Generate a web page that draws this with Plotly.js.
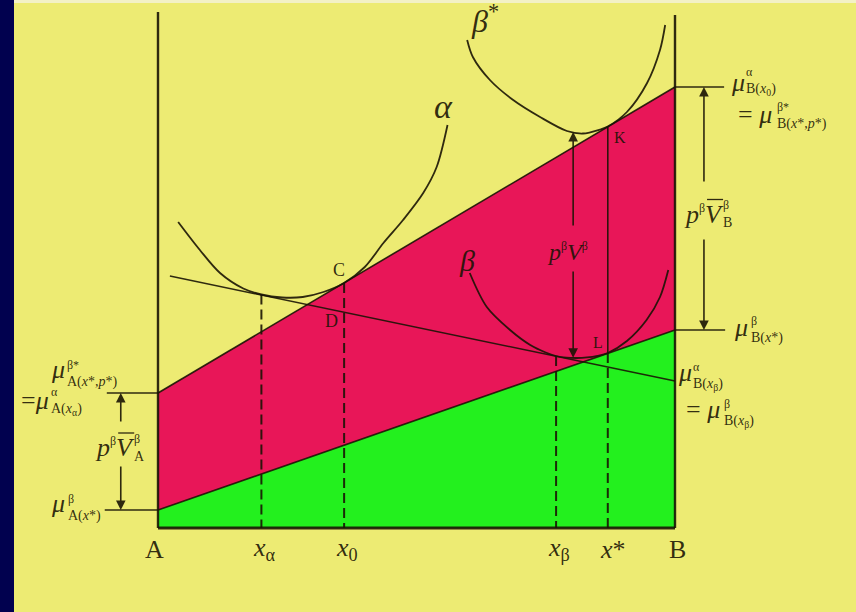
<!DOCTYPE html>
<html>
<head>
<meta charset="utf-8">
<script src="https://cdn.plot.ly/plotly-3.0.1.min.js"></script>
<style>
  html, body { margin: 0; padding: 0; background: #EDEB73; }
  #chart { width: 856px; height: 612px; }
</style>
</head>
<body>
<div id="chart"></div>
<script>
// Composition axis: 0 = pure A, 100 = pure B (mole % B)
const composition = [0, 100];
// Chemical potentials (arbitrary units) at the A and B ends
const muBase = [0, 0];
const muBetaXStar = [1.8, 19.8];           // β at x*  (lower straight line)
const muBetaStarXStarPStar = [13.5, 44.1]; // β* at x*, p* (upper straight line)
// Common tangent of the α and β curves
const tangentX = [2.3, 100];
const tangentMu = [25.2, 14.7];
// Free-energy curves
const alphaX = [3.9, 8.1, 12, 16.5, 20, 24, 28, 32, 36, 40, 43.6, 47.4, 51.3, 53.9, 56];
const alphaMu = [30.6, 27.8, 25.5, 23.95, 23.35, 23.05, 23.1, 23.6, 24.5, 26.1, 28.5, 30.8, 33.5, 36.1, 40.3];
const betaX = [60.3, 63.6, 68.1, 72, 75, 77, 79, 81, 83, 85, 87, 90.7, 94.5, 97.1, 98.7];
const betaMu = [25.5, 22.1, 19.8, 18.3, 17.55, 17.2, 17.04, 17.0, 17.06, 17.22, 17.5, 18.7, 20.8, 23.1, 25.8];
const betaStarX = [59.8, 60.9, 64.2, 68.7, 73.9, 79.1, 82.2, 85.5, 87, 90.7, 94.6, 97.1, 98.1];
const betaStarMu = [48.8, 47.1, 44.8, 42.8, 41.1, 39.7, 39.45, 39.85, 40.15, 41.6, 44.5, 47.8, 50.3];
// Marked compositions along the bottom
const markX = [20, 36, 77, 87];
const markLabels = ['<i>x</i><sub>α</sub>', '<i>x</i><sub>0</sub>', '<i>x</i><sub>β</sub>', '<i>x</i>*'];
const endLabels = ['A', 'B'];
const frameTop = [51.6, 51.3];
const pvArrowX = 80.3;

const yellow = '#EDEB73', red = '#E81658', green = '#23F01E', navy = '#01014F';
const ink = 'rgba(26,20,4,0.9)';
const serif = '"Liberation Serif", "DejaVu Serif", "Times New Roman", serif';

function interp(xs, ys, x) {
  for (let i = 0; i < xs.length - 1; i++) {
    if (x >= xs[i] && x <= xs[i + 1]) {
      const t = (x - xs[i]) / (xs[i + 1] - xs[i]);
      return ys[i] + t * (ys[i + 1] - ys[i]);
    }
  }
  return NaN;
}

function line(x, y, width, dash, shape) {
  return { type: 'scatter', mode: 'lines', x, y, hoverinfo: 'skip',
    line: { color: ink, width: width || 1.6, dash: dash || 'solid', shape: shape || 'linear', smoothing: 0.9 } };
}
function fillPoly(x, y, color) {
  return { type: 'scatter', mode: 'lines', x, y, fill: 'toself', fillcolor: color,
    line: { width: 0 }, hoverinfo: 'skip' };
}

const traces = [];
// green band: below the β(x*) line
traces.push(fillPoly([composition[0], composition[1], composition[1], composition[0]],
  [muBase[0], muBase[1], muBetaXStar[1], muBetaXStar[0]], green));
// red band: between β(x*) and β*(x*,p*)
traces.push(fillPoly([composition[0], composition[1], composition[1], composition[0]],
  [muBetaXStar[0], muBetaXStar[1], muBetaStarXStarPStar[1], muBetaStarXStarPStar[0]], red));

traces.push(line(composition, muBetaXStar, 1.6));
traces.push(line(composition, muBetaStarXStarPStar, 1.6));
traces.push(line(tangentX, tangentMu, 1.5));
traces.push(line(alphaX, alphaMu, 1.8, 'solid', 'spline'));
traces.push(line(betaX, betaMu, 1.8, 'solid', 'spline'));
traces.push(line(betaStarX, betaStarMu, 1.8, 'solid', 'spline'));

// drop lines to the composition axis
const tops = [
  interp(alphaX, alphaMu, markX[0]),
  interp(alphaX, alphaMu, markX[1]),
  interp(betaX, betaMu, markX[2]),
  interp(betaX, betaMu, markX[3])
];
markX.forEach((xm, i) => traces.push(line([xm, xm], [tops[i], 0], 2, '10px,5px')));
const kMu = interp(betaStarX, betaStarMu, markX[3]);
traces.push(line([markX[3], markX[3]], [kMu, tops[3]], 1.6));

// frame: A and B verticals, base line
traces.push(line([composition[0], composition[0]], [muBase[0], frameTop[0]], 2.4));
traces.push(line([composition[1], composition[1]], [muBase[1], frameTop[1]], 2.4));
traces.push(line(composition, muBase, 3));

// level ticks beside the frame
traces.push(line([-9.9, composition[0]], [muBetaStarXStarPStar[0], muBetaStarXStarPStar[0]], 1.4));
traces.push(line([-10.3, composition[0]], [muBetaXStar[0], muBetaXStar[0]], 1.4));
traces.push(line([composition[1], 109.5], [muBetaStarXStarPStar[1], muBetaStarXStarPStar[1]], 1.4));
traces.push(line([composition[1], 109.7], [muBetaXStar[1], muBetaXStar[1]], 1.4));

function txt(text, x, y, size, o) {
  return Object.assign({ text, x, y, xref: 'x', yref: 'y', showarrow: false,
    font: { family: serif, size, color: ink }, xanchor: 'center', yanchor: 'middle', borderpad: 0 }, o || {});
}
const sized = (s, t) => '<span style="font-size:' + s + 'px">' + t + '</span>';
// μ with a stacked superscript / subscript pair
function potential(x, y, base, sup, sub, dx, dy) {
  return [
    txt(base, x, y, 26, { xanchor: 'left' }),
    txt(sized(12, sup) + '<br>' + sized(14, sub), x, y, 13,
      { xanchor: 'left', align: 'left', xshift: dx, yshift: dy })
  ];
}
const supBeta = s => '<sup>' + sized(s, 'β') + '</sup>';
// p^β V̄^β with a subscript under the last superscript
function pvBar(x, y, sub) {
  return [
    txt('<i>p</i>' + supBeta(12) + '<i>V</i>', x, y, 26, { xanchor: 'left' }),
    txt(sized(12, 'β') + '<br>' + sized(14, sub), x, y, 14,
      { xanchor: 'left', align: 'left', xshift: 39, yshift: 0 })
  ];
}
// vertical arrow, head at yHead
function arrow(x, yTail, yHead) {
  return { x, y: yHead, ax: x, ay: yTail, xref: 'x', yref: 'y', axref: 'x', ayref: 'y',
    text: '', showarrow: true, arrowhead: 2, arrowsize: 1.2, arrowwidth: 1.6,
    arrowcolor: ink, standoff: 0, startstandoff: 0 };
}

let annotations = [];
annotations = annotations.concat(
  potential(-20.9, 15.85, '<i>μ</i>', 'β*', 'A(<i>x</i>*,<i>p</i>*)', 16, -4.5),
  potential(-26.7, 12.8, '=<i>μ</i>', 'α', 'A(<i>x</i><sub>α</sub>)', 30, -1.75),
  potential(-20.9, 2.45, '<i>μ</i>', 'β', 'A(<i>x</i>*)', 17, -4.25),
  potential(110.6, 44.6, '<i>μ</i>', 'α', 'B(<i>x</i><sub>0</sub>)', 15, 0.5),
  potential(112.0, 41.35, '= <i>μ</i>', 'β*', 'B(<i>x</i>*,<i>p</i>*)', 39, -1.5),
  potential(111.2, 20.05, '<i>μ</i>', 'β', 'B(<i>x</i>*)', 17, -2.75),
  potential(100.4, 15.55, '<i>μ</i>', 'α', 'B(<i>x</i><sub>β</sub>)', 15, -3.5),
  potential(101.9, 11.85, '= <i>μ</i>', 'β', 'B(<i>x</i><sub>β</sub>)', 38, -3.5),
  pvBar(-12.4, 8.03, 'A'),
  pvBar(101.5, 31.37, 'B')
);
annotations.push(
  txt('<i>p</i>' + supBeta(12) + '<i>V</i>' + supBeta(12), 75.0, 27.6, 24, { xanchor: 'left' }),
  txt('<i>α</i>', 55.2, 42.2, 34),
  txt('<i>β</i><sup>*</sup>', 60.35, 50.9, 32, { xanchor: 'left' }),
  txt('<i>β</i>', 59.8, 26.8, 30),
  txt('C', 35.0, 25.8, 18),
  txt('D', 33.5, 20.75, 18),
  txt('K', 89.4, 39.1, 16),
  txt('L', 85.1, 18.6, 16),
  txt(endLabels[0], composition[0], -2.1, 26, { xshift: -4 }),
  txt(endLabels[1], composition[1], -2.1, 26, { xshift: 2 })
);
markX.forEach((xm, i) => annotations.push(txt(markLabels[i], xm, -2.1, 26, { xanchor: 'left', xshift: -9 })));

annotations.push(
  arrow(-7.2, 10.5, muBetaStarXStarPStar[0]),
  arrow(-7.2, 6.3, muBetaXStar[0]),
  arrow(105.6, 34.5, muBetaStarXStarPStar[1]),
  arrow(105.6, 29.0, muBetaXStar[1]),
  arrow(pvArrowX, 30.1, interp(betaStarX, betaStarMu, pvArrowX)),
  arrow(pvArrowX, 25.8, interp(betaX, betaMu, pvArrowX))
);

const shapes = [
  { type: 'rect', xref: 'paper', yref: 'paper', x0: 0, x1: 14 / 856, y0: 0, y1: 1,
    fillcolor: navy, line: { width: 0 } },
  { type: 'rect', xref: 'paper', yref: 'paper', x0: 14 / 856, x1: 1, y0: 1 - 3 / 612, y1: 1,
    fillcolor: '#F3F1C6', line: { width: 0 } },
  // bars over the partial-volume symbols
  { type: 'line', xref: 'x', yref: 'y', x0: -7.7, x1: -4.6, y0: 9.5, y1: 9.5, line: { color: ink, width: 1.3 } },
  { type: 'line', xref: 'x', yref: 'y', x0: 106.2, x1: 109.3, y0: 32.85, y1: 32.85, line: { color: ink, width: 1.3 } }
];

const layout = {
  width: 856, height: 612,
  margin: { l: 0, r: 0, t: 0, b: 0, pad: 0 },
  paper_bgcolor: yellow, plot_bgcolor: yellow,
  showlegend: false,
  xaxis: { range: [-30.56, 135.01], visible: false, fixedrange: true },
  yaxis: { range: [-8.4, 52.8], visible: false, fixedrange: true },
  shapes, annotations
};

Plotly.newPlot('chart', traces, layout, { staticPlot: true, displayModeBar: false });
</script>
</body>
</html>
